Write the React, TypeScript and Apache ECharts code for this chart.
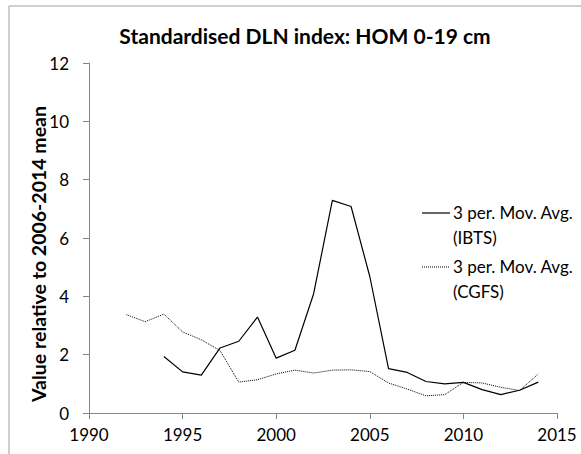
import React, { useEffect, useRef } from "react";
import * as echarts from "echarts";

const years: number[] = [1992, 1993, 1994, 1995, 1996, 1997, 1998, 1999, 2000, 2001, 2002, 2003, 2004, 2005, 2006, 2007, 2008, 2009, 2010, 2011, 2012, 2013, 2014];
const ibts: (number | null)[] = [null, null, 1.94, 1.41, 1.30, 2.23, 2.46, 3.29, 1.88, 2.15, 4.09, 7.29, 7.08, 4.68, 1.52, 1.39, 1.08, 1.0, 1.05, 0.80, 0.63, 0.78, 1.06];
const cgfs: (number | null)[] = [3.37, 3.13, 3.39, 2.78, 2.51, 2.14, 1.06, 1.14, 1.34, 1.47, 1.37, 1.47, 1.48, 1.42, 1.03, 0.82, 0.59, 0.63, 1.05, 1.03, 0.88, 0.77, 1.34];
const seriesNames: string[] = ["3 per. Mov. Avg. (IBTS)", "3 per. Mov. Avg. (CGFS)"];
const legendLines: string[] = ["3 per. Mov. Avg.\n(IBTS)", "3 per. Mov. Avg.\n(CGFS)"];
const titleText = "Standardised DLN index: HOM 0-19 cm";
const yTitle = "Value relative to 2006-2014 mean";

const FONT = "Lato";
const AXIS_COLOR = "#868686";

export default function App() {
  const ref = useRef<HTMLDivElement>(null);
  useEffect(() => {
    if (!ref.current) return;
    const chart = echarts.init(ref.current, null, { renderer: "svg" });
    const toPairs = (vals: (number | null)[]) =>
      years.map((y, i) => [y, vals[i]]).filter((p) => p[1] !== null);
    chart.setOption({
      animation: false,
      backgroundColor: "#ffffff",
      title: {
        text: titleText,
        left: 300,
        top: 20,
        textAlign: "center",
        textStyle: { fontFamily: FONT, fontSize: 21, fontWeight: "bold", color: "#000" },
      },
      grid: { left: 89, right: 24, top: 63, bottom: 41, containLabel: false },
      xAxis: {
        type: "value",
        min: 1990,
        max: 2015,
        interval: 5,
        axisLine: { show: true, lineStyle: { color: AXIS_COLOR, width: 1 } },
        axisTick: { show: true, length: 6, lineStyle: { color: AXIS_COLOR } },
        splitLine: { show: false },
        axisLabel: { margin: 13, fontFamily: FONT, fontSize: 17, color: "#000", formatter: (v: number) => String(v) },
      },
      yAxis: {
        type: "value",
        min: 0,
        max: 12,
        interval: 2,
        axisLine: { show: true, lineStyle: { color: AXIS_COLOR, width: 1 } },
        axisTick: { show: true, length: 6, lineStyle: { color: AXIS_COLOR } },
        splitLine: { show: false },
        axisLabel: { margin: 20, fontFamily: FONT, fontSize: 17, color: "#000" },
      },
      series: [
        {
          name: seriesNames[0],
          type: "line",
          data: toPairs(ibts),
          showSymbol: false,
          symbol: "none",
          lineStyle: { color: "#000", width: 1.2, type: "solid" },
        },
        {
          name: seriesNames[1],
          type: "line",
          data: toPairs(cgfs),
          showSymbol: false,
          symbol: "none",
          lineStyle: { color: "#000", width: 1, type: [1, 1] },
        },
      ],
      graphic: [
        { type: "line", shape: { x1: 9, y1: 6, x2: 581, y2: 6 }, style: { stroke: "#BFBFBF", lineWidth: 1.5 } },
        { type: "line", shape: { x1: 9, y1: 6, x2: 9, y2: 454 }, style: { stroke: "#BFBFBF", lineWidth: 1.5 } },
        {
          type: "text",
          x: 38,
          y: 254,
          rotation: Math.PI / 2,
          style: { text: yTitle, fontFamily: FONT, fontSize: 19.5, fontWeight: "bold", fill: "#000", textAlign: "center", textVerticalAlign: "middle" },
        },
        { type: "line", shape: { x1: 422, y1: 213, x2: 450, y2: 213 }, style: { stroke: "#000", lineWidth: 1.2 } },
        {
          type: "text",
          x: 453,
          y: 200,
          style: { text: legendLines[0], fontFamily: FONT, fontSize: 17, lineHeight: 25, fill: "#000", textVerticalAlign: "top" },
        },
        { type: "line", shape: { x1: 422, y1: 267, x2: 450, y2: 267 }, style: { stroke: "#000", lineWidth: 1, lineDash: [1, 1] } },
        {
          type: "text",
          x: 453,
          y: 254,
          style: { text: legendLines[1], fontFamily: FONT, fontSize: 17, lineHeight: 25, fill: "#000", textVerticalAlign: "top" },
        },
      ],
    });
    return () => chart.dispose();
  }, []);
  return <div ref={ref} style={{ position: "fixed", left: 0, top: 0, width: 581, height: 454 }} />;
}
